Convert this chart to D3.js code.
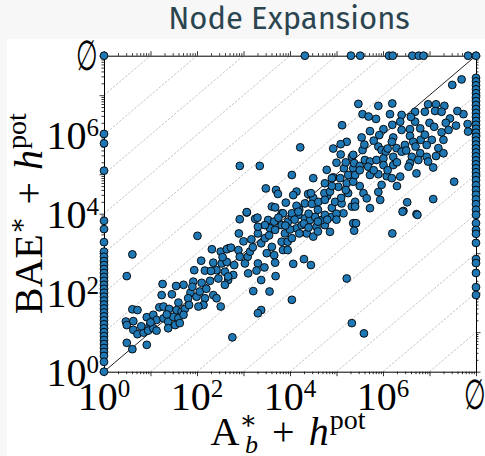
<!DOCTYPE html>
<html>
<head>
<meta charset="utf-8">
<script src="https://cdn.jsdelivr.net/npm/d3@7"></script>
<style>
  body { margin: 0; background: #f7f7f7; }
  svg { display: block; }
</style>
</head>
<body>
<svg id="chart"></svg>
<script>
const WIDTH = 485;
const HEIGHT = 456;
const TITLE = "Node Expansions";

// log10(expansions): [A*_b + h^pot, BAE* + h^pot]
const bothSolved = [
  [2.01,3.44],[0.61,2.97],[0.49,2.42],[2.32,3.10],[2.51,3.04],[2.67,3.12],[2.09,2.81],[2.35,2.76],
  [2.53,2.74],[2.64,2.78],[1.94,2.57],[2.17,2.56],[2.42,2.57],[2.60,2.53],[2.67,2.32],[1.26,2.22],
  [1.71,2.20],[1.55,2.17],[1.92,2.28],[2.10,2.25],[2.28,2.30],[2.46,2.36],[1.24,1.94],[1.46,1.96],
  [1.86,2.00],[1.81,1.86],[1.99,1.90],[2.06,2.03],[2.17,1.86],[2.35,1.94],[2.42,1.86],[2.51,1.65],
  [2.14,1.69],[2.03,1.65],[0.61,1.58],[0.72,1.56],[1.19,1.63],[1.28,1.65],[1.40,1.59],[1.56,1.56],
  [1.67,1.52],[1.74,1.59],[1.83,1.69],[0.47,1.27],[0.63,1.28],[0.92,1.38],[1.06,1.44],[1.13,1.31],
  [1.28,1.35],[1.38,1.27],[1.49,1.39],[1.60,1.35],[1.71,1.44],[0.49,1.18],[0.63,1.06],[0.72,0.95],
  [0.85,0.99],[0.98,1.16],[0.95,1.04],[1.06,1.10],[1.13,1.04],[1.38,1.10],[1.53,1.18],[1.63,1.23],
  [0.49,0.73],[0.61,0.57],[0.92,0.68],
  [2.92,3.86],[3.07,4.03],[3.25,3.87],[3.53,3.84],[2.64,3.10],[2.73,3.14],[2.89,3.08],[2.92,2.91],
  [3.09,2.91],[3.03,2.74],[3.14,3.04],[3.17,3.35],[3.31,3.50],[3.38,3.25],[3.46,3.38],[3.57,3.63],
  [3.68,3.59],[3.61,3.16],[3.66,2.95],[3.68,2.76],[3.31,2.74],[3.45,2.64],[3.28,2.56],[3.10,2.49],
  [2.78,2.45],[2.67,2.41],[3.38,2.32],[3.69,2.42],[3.21,2.04],[3.56,2.03],[4.04,1.82],[3.38,1.56],
  [3.31,1.48],[2.76,0.87],[4.07,2.73],[4.30,2.85],[4.45,2.70],[5.22,2.36],[5.33,1.23],
  [3.82,3.71],[3.89,3.50],[3.82,3.29],[3.95,3.29],[3.85,3.08],[3.95,3.08],[4.04,3.38],[4.14,3.63],
  [4.25,3.71],[4.36,3.50],[4.50,3.42],[4.57,3.67],[4.75,3.71],[4.86,3.54],[4.68,3.84],[4.32,3.88],
  [3.96,3.80],[3.66,3.80],[3.46,3.71],[3.31,3.67],[4.43,3.84],
  [3.82,4.01],[4.04,3.92],[4.18,3.97],[4.54,3.92],[4.75,3.97],[4.90,3.92],[5.15,4.01],[5.36,3.76],
  [4.20,4.10],[4.40,4.00],[4.60,4.10],[4.90,4.15],[5.00,4.00],[4.30,3.75],[4.60,3.80],[4.00,3.60],
  [4.80,4.45],[4.50,4.40],
  [5.12,6.24],[5.22,5.82],[4.22,5.68],[4.93,5.65],[5.09,5.76],[5.09,5.50],[2.92,5.21],[3.35,5.21],
  [5.00,5.29],[5.33,5.44],[4.79,5.11],[4.04,4.98],[5.16,5.15],[5.36,5.15],[4.93,4.92],[5.08,4.90],
  [5.25,4.98],[3.48,4.64],[3.70,4.60],[3.74,4.50],[4.14,4.56],[4.07,4.47],[4.39,4.50],[4.45,4.52],
  [4.75,4.77],[4.74,4.52],[4.86,4.56],[5.04,4.68],[5.22,4.77],[5.36,4.81],[5.25,4.52],[3.61,4.18],
  [3.68,4.16],[3.91,4.28],[4.14,4.20],[4.32,4.26],[4.47,4.25],[4.61,4.30],[4.75,4.35],[4.97,4.30],
  [5.11,4.26],[5.33,4.18],[3.07,4.04],[3.85,4.01],[4.04,4.01],[4.18,4.05],
  [7.49,7.26],[7.69,7.40],[5.47,6.78],[5.90,6.73],[6.20,6.79],[6.97,6.77],[7.14,6.77],[7.32,6.73],
  [5.56,6.52],[5.69,6.46],[5.85,6.40],[6.15,6.52],[6.40,6.50],[6.69,6.58],[6.90,6.58],[7.12,6.60],
  [7.26,6.58],[7.44,6.41],[7.57,6.23],[7.73,6.52],[7.82,6.27],[6.37,6.33],[6.69,6.33],[6.80,6.16],
  [6.58,6.14],[6.40,6.12],[6.01,6.14],[5.72,6.09],[5.54,5.93],[5.92,5.99],[6.22,5.93],[6.58,5.97],
  [6.81,5.87],[7.05,5.87],[7.26,6.06],[7.30,5.87],[7.41,6.12],[7.83,6.08],[5.56,5.61],[5.90,5.70],
  [6.19,5.82],[6.29,5.66],[6.47,5.74],[6.65,5.82],[6.94,5.74],[7.19,5.66],[5.97,5.61],[6.06,5.57],
  [6.40,5.57],[6.62,5.44],[6.80,5.53],[6.94,5.44],[7.14,5.46],[7.30,5.53],[5.36,5.49],[5.61,5.36],
  [5.72,5.32],[5.86,5.36],[6.01,5.40],[6.22,5.44],[5.38,5.28],[5.50,5.21],[5.68,5.19],[6.01,5.23],
  [6.22,5.23],[6.58,5.28],[6.76,5.36],[6.97,5.32],[6.55,5.19],[7.08,5.17],[5.40,4.98],[5.72,4.98],
  [5.90,5.00],[6.08,4.95],[6.19,4.90],[6.37,4.94],[6.72,5.02],[5.97,4.73],[5.58,4.52],[5.65,4.39],
  [5.94,4.35],[5.40,4.30],[5.40,4.18],[5.72,4.14],[6.52,4.29],[7.08,4.37],[7.53,4.81],[6.44,4.07],
  [6.72,3.99],
  [6.42,4.05],[6.74,3.97],[5.42,3.76],[5.38,3.57],[6.20,3.50],[5.59,0.97],
  [3.00,3.30],[3.20,3.15],[3.50,3.00],[3.55,3.45],[3.75,3.90],[3.90,3.70],[4.10,3.85],[4.20,3.50],
  [4.40,3.65],[4.60,3.55],[4.80,3.85],[5.00,3.85],[5.10,4.40],[5.20,4.60],[4.90,4.90],[5.50,5.10],
  [5.80,5.10],[6.10,5.10],[6.30,5.30],[6.50,5.60],[6.70,5.70],[6.90,6.00],[7.00,6.30],[6.60,6.45],
  [6.20,6.25],[5.80,5.85],[5.60,5.75],[6.10,5.65],[7.10,6.20],[7.35,6.30],[7.60,6.60],[2.80,2.70],
  [2.55,2.90],[2.30,2.55],[2.20,2.10],[1.90,2.15],[2.60,2.20],[1.60,1.75],[1.35,1.45],[1.00,1.25],
  [0.80,1.15],[2.90,3.50],[3.30,3.90],[4.90,4.70],[5.50,4.70],[5.20,5.30],[4.50,4.90],[6.30,4.70],
  [5.90,4.55]
];

// A*_b + h^pot = 10^0
const leftEdgeY = [6.02,5.78,5.09,3.82,3.61,3.28,3.04,2.91,2.80,2.70,2.60,2.50,2.40,2.30,2.20,2.10,
  2.00,1.90,1.80,1.70,1.60,1.50,1.40,1.30,1.20,1.10,1.00,0.90,0.80,0.70,0.60,0.50,0.40,0.25,0];

// A*_b + h^pot unsolved (∅)
const rightEdgeY = [7.44,7.35,7.25,7.15,7.05,6.95,6.85,6.75,6.65,6.55,6.45,6.35,6.25,6.15,6.05,5.95,
  5.85,5.75,5.65,5.55,5.45,5.35,5.25,5.15,5.05,4.95,4.85,4.72,4.60,4.48,4.36,4.24,4.10,3.97,3.76,
  3.59,3.49,3.26,2.85,2.75,2.50,2.14,1.94];

// BAE* + h^pot unsolved (∅); null = both unsolved
const topEdgeX = [0,4.32,5.31,5.51,6.13,6.21,6.63,6.77,6.87,7.83,null];

const MAJOR_EXP = d3.range(0, 9);
const LABEL_EXP = [0, 2, 4, 6];
const EMPTY_LABEL = "∅";
const EMPTY = 1e8;

const plotLeft = 104, plotRight = 476, plotTop = 55.7, plotBottom = 371.7;

const svg = d3.select("#chart").attr("width", WIDTH).attr("height", HEIGHT);

svg.append("rect")
  .attr("x", 7).attr("y", 39)
  .attr("width", WIDTH - 7).attr("height", HEIGHT - 39)
  .attr("fill", "#fff");

svg.append("text")
  .attr("x", 289).attr("y", 29)
  .attr("text-anchor", "middle")
  .attr("font-family", "'Fira Sans', 'Open Sans', sans-serif")
  .attr("font-size", 31)
  .attr("fill", "#2b4550")
  .text(TITLE);

const x = d3.scaleLog().domain([1, EMPTY]).range([plotLeft, plotRight]);
const y = d3.scaleLog().domain([1, EMPTY]).range([plotBottom, plotTop]);
const pos = (scale, e) => scale(e === null ? EMPTY : Math.pow(10, e));

// reference lines
svg.append("clipPath").attr("id", "plot-clip")
  .append("rect").attr("x", plotLeft).attr("y", plotTop)
  .attr("width", plotRight - plotLeft).attr("height", plotBottom - plotTop);

const guides = svg.append("g").attr("clip-path", "url(#plot-clip)");
d3.range(-7, 8).forEach(k => {
  const x0 = Math.max(0, -k), x1 = Math.min(8, 8 - k);
  guides.append("line")
    .attr("x1", pos(x, x0)).attr("y1", pos(y, x0 + k))
    .attr("x2", pos(x, x1)).attr("y2", pos(y, x1 + k))
    .attr("stroke", k === 0 ? "#222" : "#aaa")
    .attr("stroke-width", k === 0 ? 1 : 0.7)
    .attr("stroke-dasharray", k === 0 ? null : "2.5,1.5");
});

// axes
const majors = MAJOR_EXP.map(e => Math.pow(10, e));
const minors = [];
for (let e = 0; e < 8; e++) for (let m = 2; m < 10; m++) minors.push(m * Math.pow(10, e));

const addAxis = (axisFn, scale, transform) => {
  const g = svg.append("g").attr("transform", transform);
  g.call(axisFn(scale).tickValues(majors).tickSize(4.5).tickSizeOuter(0).tickFormat(""));
  g.append("g")
    .call(axisFn(scale).tickValues(minors).tickSize(2.5).tickFormat(""))
    .select(".domain").remove();
  g.selectAll("path, line").attr("stroke", "#000").attr("stroke-width", 0.8);
  g.select(".domain").attr("stroke-width", 1);
};
addAxis(d3.axisBottom, x, `translate(0,${plotBottom})`);
addAxis(d3.axisTop, x, `translate(0,${plotTop})`);
addAxis(d3.axisLeft, y, `translate(${plotLeft},0)`);
addAxis(d3.axisRight, y, `translate(${plotRight},0)`);

// tick labels
const serif = "'Liberation Serif', 'DejaVu Serif', serif";
const emptyMark = (g, cx, baseline) => {
  g.append("text")
    .attr("transform", `translate(${cx},${baseline}) scale(0.62,1.05)`)
    .attr("text-anchor", "middle").attr("font-size", 40)
    .text(EMPTY_LABEL);
};

const xLab = svg.append("g").attr("font-family", serif).attr("fill", "#000");
LABEL_EXP.forEach(e => {
  const t = xLab.append("text")
    .attr("x", pos(x, e)).attr("y", 409.5)
    .attr("text-anchor", "middle").attr("font-size", 40);
  t.append("tspan").text("10");
  t.append("tspan").attr("font-size", 25).attr("dy", -13).text(e);
});
emptyMark(xLab, pos(x, null) - 1, 409);

const yLab = svg.append("g").attr("font-family", serif).attr("fill", "#000");
LABEL_EXP.forEach(e => {
  const t = yLab.append("text")
    .attr("x", 99).attr("y", pos(y, e) + 14)
    .attr("text-anchor", "end").attr("font-size", 40);
  t.append("tspan").text("10");
  t.append("tspan").attr("font-size", 25).attr("dy", -13).text(e);
});
emptyMark(yLab, 86.5, pos(y, null) + 14);

// axis titles
const xTitle = svg.append("text")
  .attr("x", 288).attr("y", 445)
  .attr("text-anchor", "middle")
  .attr("font-family", serif).attr("font-size", 40);
xTitle.append("tspan").text("A");
xTitle.append("tspan").attr("font-size", 26).attr("dy", -16).text("∗");
xTitle.append("tspan").attr("font-size", 26).attr("font-style", "italic").attr("dx", -12).attr("dy", 24).text("b");
xTitle.append("tspan").attr("dy", -8).attr("dx", 4).text(" + ");
xTitle.append("tspan").attr("font-style", "italic").attr("dx", 4).text("h");
xTitle.append("tspan").attr("font-size", 28).attr("dy", -16).attr("dx", 1).text("pot");

const yTitle = svg.append("text")
  .attr("transform", `translate(42,${(plotTop + plotBottom) / 2}) rotate(-90)`)
  .attr("text-anchor", "middle")
  .attr("font-family", serif).attr("font-size", 40);
yTitle.append("tspan").text("BAE");
yTitle.append("tspan").attr("font-size", 26).attr("dy", -16).text("∗");
yTitle.append("tspan").attr("dy", 16).attr("dx", 2).text(" + ");
yTitle.append("tspan").attr("font-style", "italic").attr("dx", 2).text("h");
yTitle.append("tspan").attr("font-size", 28).attr("dy", -16).attr("dx", 1).text("pot");

// points
const points = [
  ...bothSolved,
  ...leftEdgeY.map(v => [0, v]),
  ...rightEdgeY.map(v => [null, v]),
  ...topEdgeX.map(v => [v, null])
];

svg.append("g")
  .selectAll("circle")
  .data(points)
  .enter()
  .append("circle")
  .attr("cx", d => pos(x, d[0]))
  .attr("cy", d => pos(y, d[1]))
  .attr("r", 3.9)
  .attr("fill", "#1f77b4")
  .attr("stroke", "#000")
  .attr("stroke-width", 0.9);
</script>
</body>
</html>
